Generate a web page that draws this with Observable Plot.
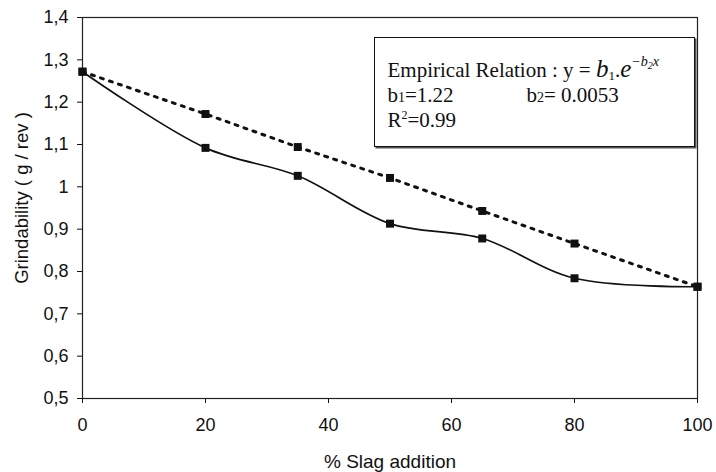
<!DOCTYPE html>
<html><head><meta charset="utf-8">
<script src="https://cdn.jsdelivr.net/npm/d3@7"></script>
<script src="https://cdn.jsdelivr.net/npm/@observablehq/plot@0.6"></script>
<style>
body{margin:0;background:#fff}
#wrap{position:relative;width:716px;height:472px}
#box{position:absolute;left:374px;top:37px;width:321px;height:110px;border:1.5px solid #111;box-shadow:1.5px 1.5px 0 #555;font-family:"Liberation Serif","Times New Roman",serif;font-size:21px;color:#111;box-sizing:border-box;background:#fff}
#box .ln{position:absolute;white-space:nowrap;line-height:20px;height:20px}
#box span{line-height:0;position:relative}
#box .big{font-size:25px;font-style:italic}
#box .sb{font-size:13px;top:3px}
#box .ex{font-size:14px;font-style:italic;top:-11px}
#box .ex .s2{font-size:10px;top:3px}
#box .r2{font-size:12px;top:-8px}
#box .lo{font-size:14px}
</style></head><body>
<div id="wrap">
<div id="box">
 <div class="ln" style="left:12.5px;top:21.5px">Empirical Relation : y = <span class="big">b</span><span class="sb">1</span>.<span class="big">e</span><span class="ex">&minus;b<span class="s2">2</span>x</span></div>
 <div class="ln" style="left:12.5px;top:46.5px">b<span class="lo">1</span>=1.22</div>
 <div class="ln" style="left:151.5px;top:46.5px">b<span class="lo">2</span>= 0.0053</div>
 <div class="ln" style="left:12.5px;top:71.5px">R<span class="r2">2</span>=0.99</div>
</div>
</div>
<script>
const slag = [0, 20, 35, 50, 65, 80, 100];
const measured = [1.272, 1.092, 1.026, 0.913, 0.878, 0.784, 0.764];
const empirical = [1.272, 1.172, 1.094, 1.021, 0.943, 0.866, 0.764];
const xTicks = [0, 20, 40, 60, 80, 100];
const yTicks = [0.5, 0.6, 0.7, 0.8, 0.9, 1.0, 1.1, 1.2, 1.3, 1.4];
const xLabel = "% Slag addition";
const yLabel = "Grindability ( g / rev )";

const measRows = slag.map((x, i) => ({x, y: measured[i]}));
const empRows = slag.map((x, i) => ({x, y: empirical[i]}));
const fmt = d => String(d).replace(".", ",");

const chart = Plot.plot({
  width: 716, height: 472,
  marginLeft: 82, marginRight: 19, marginTop: 17, marginBottom: 74,
  style: {fontFamily: "'Liberation Sans', Arial, sans-serif", fontSize: "18px", color: "#111", background: "#fff"},
  x: {domain: [0, 100]},
  y: {domain: [0.5, 1.4]},
  marks: [
    Plot.frame({stroke: "#222", strokeWidth: 1.2}),
    Plot.axisX({ticks: xTicks, tickSize: 5, tickPadding: 15, label: null, tickFormat: fmt, fontSize: 18}),
    Plot.axisY({ticks: yTicks, tickSize: 5, tickPadding: 9, label: null, tickFormat: fmt, fontSize: 18}),
    Plot.text([xLabel], {frameAnchor: "bottom", textAnchor: "middle", lineAnchor: "bottom", dy: 69, fontSize: 19}),
    Plot.text([yLabel], {frameAnchor: "left", textAnchor: "middle", lineAnchor: "middle", dx: -60, dy: -10, rotate: -90, fontSize: 18.5}),
    Plot.line(empRows, {x: "x", y: "y", stroke: "#111", strokeWidth: 3, strokeDasharray: "3,6.5"}),
    Plot.line(measRows, {x: "x", y: "y", stroke: "#111", strokeWidth: 1.7, curve: "catmull-rom"}),
    Plot.dot(empRows, {x: "x", y: "y", symbol: "square", r: 4.5, fill: "#111", stroke: "none"}),
    Plot.dot(measRows, {x: "x", y: "y", symbol: "square", r: 4.5, fill: "#111", stroke: "none"})
  ]
});
document.getElementById("wrap").prepend(chart);
</script>
</body></html>
